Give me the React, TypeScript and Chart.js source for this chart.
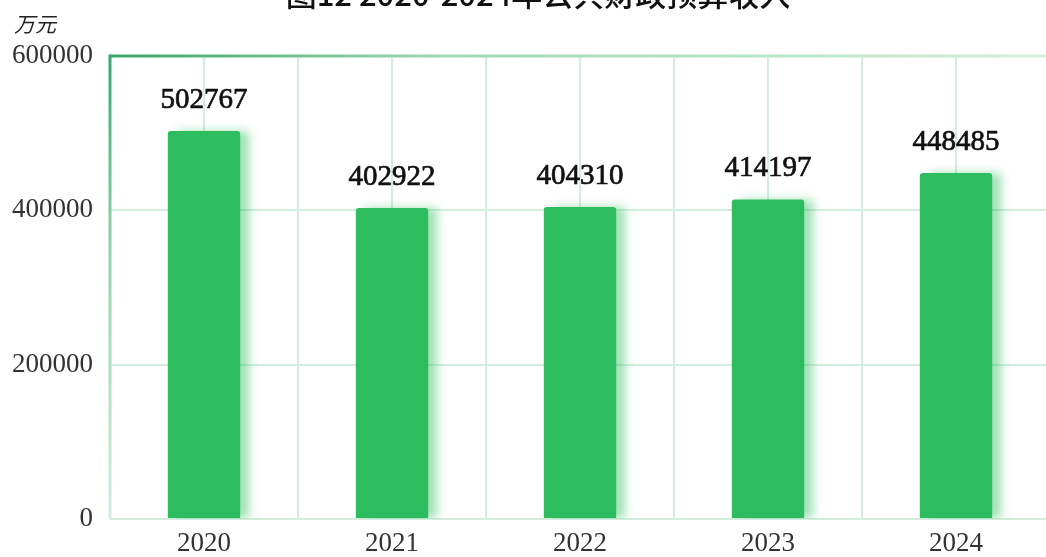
import React, { useEffect, useRef } from "react";
import { Chart, registerables } from "chart.js";

Chart.register(...registerables);

const titleText = "图12 2020-2024年公共财政预算收入";
const unitText = "万元";
const categories = ["2020", "2021", "2022", "2023", "2024"];
const revenue = [502767, 402922, 404310, 414197, 448485];
const yTicks = [0, 200000, 400000, 600000];

const CANVAS_W = 1060;
const CANVAS_H = 587;
const SHIFT = 30;

const BAR = "#2ebd5e";
const GRID = "#d3eedc";
const SERIF = "'Liberation Serif', 'Times New Roman', serif";

const decorPlugin = {
  id: "decor",
  beforeDatasetDraw(chart: any) {
    const ctx = chart.ctx;
    ctx.save();
    ctx.shadowColor = "rgba(46,189,94,0.45)";
    ctx.shadowBlur = 10;
    ctx.shadowOffsetX = 9;
    ctx.shadowOffsetY = 0;
  },
  afterDatasetDraw(chart: any) {
    chart.ctx.restore();
  },
  afterDatasetsDraw(chart: any) {
    const ctx = chart.ctx;
    const { left, top, right, bottom } = chart.chartArea;
    ctx.save();
    const gT = ctx.createLinearGradient(left, 0, right, 0);
    gT.addColorStop(0, "#3aa76b");
    gT.addColorStop(0.35, "#9ed8b3");
    gT.addColorStop(1, "#d3eedc");
    ctx.strokeStyle = gT;
    ctx.lineWidth = 3;
    ctx.beginPath();
    ctx.moveTo(left, top);
    ctx.lineTo(right, top);
    ctx.stroke();
    const gL = ctx.createLinearGradient(0, top, 0, bottom);
    gL.addColorStop(0, "#3aa76b");
    gL.addColorStop(0.4, "#8fd2a7");
    gL.addColorStop(1, "#d3eedc");
    ctx.strokeStyle = gL;
    ctx.beginPath();
    ctx.moveTo(left, top - 1.5);
    ctx.lineTo(left, bottom);
    ctx.stroke();

    const meta = chart.getDatasetMeta(0);
    ctx.fillStyle = "#111111";
    ctx.strokeStyle = "#111111";
    ctx.lineWidth = 0.7;
    ctx.font = `29px ${SERIF}`;
    ctx.textAlign = "center";
    ctx.textBaseline = "middle";
    meta.data.forEach((bar: any, i: number) => {
      ctx.fillText(String(revenue[i]), bar.x, bar.y - 31);
      ctx.strokeText(String(revenue[i]), bar.x, bar.y - 31);
    });

    ctx.font = `500 31px 'Noto Sans CJK SC', sans-serif`;
    ctx.textBaseline = "alphabetic";
    ctx.fillText(titleText, 538, 36);
    ctx.font = `italic 21px 'Noto Sans CJK SC', serif`;
    ctx.textAlign = "left";
    ctx.textBaseline = "middle";
    ctx.fillStyle = "#222222";
    ctx.fillText(unitText, 14, SHIFT + 24);
    ctx.restore();
  },
};

export default function App() {
  const ref = useRef<HTMLCanvasElement | null>(null);
  useEffect(() => {
    if (!ref.current) return;
    const chart = new Chart(ref.current, {
      type: "bar",
      data: {
        labels: categories,
        datasets: [
          {
            data: revenue,
            backgroundColor: BAR,
            borderRadius: 3,
            borderSkipped: "bottom",
            categoryPercentage: 1,
            barPercentage: 0.385,
            xAxisID: "x",
          },
        ],
      },
      options: {
        responsive: false,
        animation: false,
        devicePixelRatio: 1,
        layout: { padding: { top: 86, left: 0, right: 10, bottom: 0 } },
        plugins: { legend: { display: false }, tooltip: { enabled: false }, title: { display: false } },
        scales: {
          x: {
            type: "category",
            offset: true,
            grid: { offset: false, color: GRID, lineWidth: 2, drawTicks: false },
            border: { display: false },
            ticks: { color: "#333333", font: { family: SERIF, size: 27 }, padding: 9 },
            afterFit(scale: any) {
              scale.height = 38;
            },
          },
          x2: {
            type: "category",
            labels: categories,
            offset: true,
            position: "bottom",
            display: true,
            grid: { offset: true, color: GRID, lineWidth: 2, drawTicks: false },
            border: { display: false },
            ticks: { display: false },
            afterFit(scale: any) {
              scale.height = 0;
            },
          },
          y: {
            min: 0,
            max: 600000,
            afterBuildTicks(scale: any) {
              scale.ticks = yTicks.map((v) => ({ value: v }));
            },
            grid: { color: GRID, lineWidth: 2, drawTicks: false },
            border: { display: false },
            ticks: {
              color: "#333333",
              font: { family: SERIF, size: 27 },
              padding: 17,
              callback: (v: any) => String(v),
            },
            afterFit(scale: any) {
              scale.width = 110;
            },
          },
        },
      },
      plugins: [decorPlugin],
    });
    return () => chart.destroy();
  }, []);
  return (
    <div style={{ position: "fixed", left: 0, top: 0, width: 1046, height: 557, overflow: "hidden", background: "#fff" }}>
      <canvas
        ref={ref}
        width={CANVAS_W}
        height={CANVAS_H}
        style={{ position: "absolute", left: 0, top: -SHIFT, width: CANVAS_W, height: CANVAS_H }}
      />
    </div>
  );
}
